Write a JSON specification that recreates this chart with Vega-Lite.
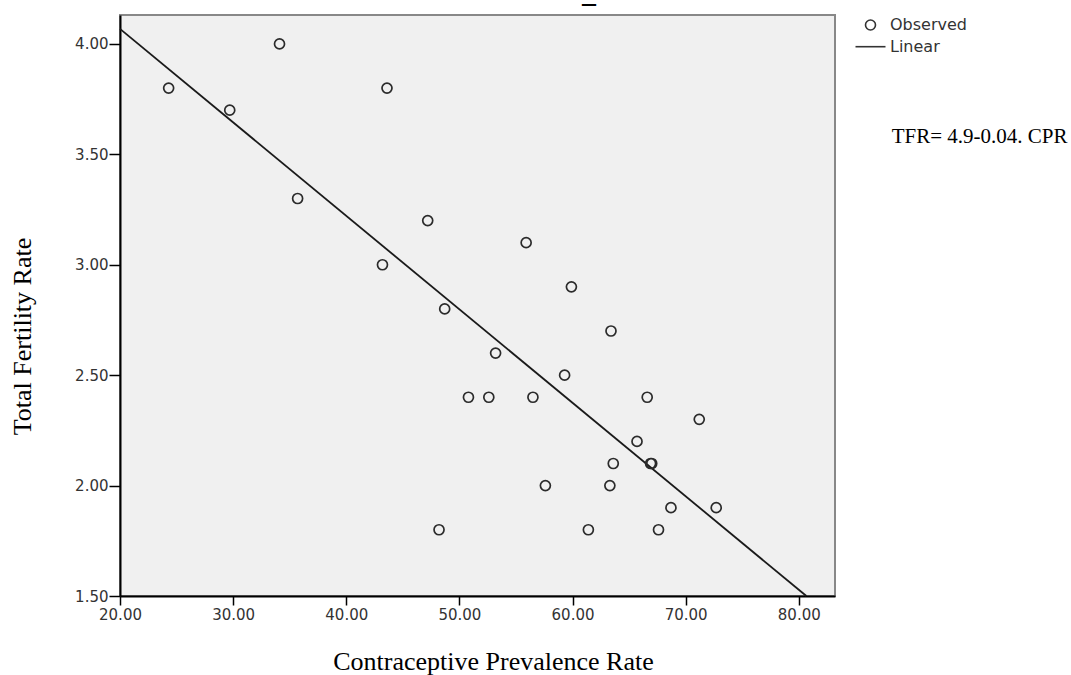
{
  "$schema": "https://vega.github.io/schema/vega-lite/v6.json",
  "width": 715,
  "height": 581,
  "autosize": "none",
  "padding": {"left": 120, "top": 15, "right": 236, "bottom": 79},
  "background": "white",
  "config": {
    "view": {"fill": "#f0f0f0", "stroke": "#888888", "strokeWidth": 2}
  },
  "title": {
    "text": "—",
    "anchor": "start",
    "frame": "group",
    "dx": 461,
    "dy": 12,
    "offset": 2,
    "baseline": "alphabetic",
    "font": "DejaVu Sans",
    "fontWeight": "bold",
    "fontSize": 16,
    "color": "black"
  },
  "datasets": {
    "observed": [
      {"cpr": 24.3, "tfr": 3.8, "series": "Observed"},
      {"cpr": 29.7, "tfr": 3.7, "series": "Observed"},
      {"cpr": 34.1, "tfr": 4.0, "series": "Observed"},
      {"cpr": 43.6, "tfr": 3.8, "series": "Observed"},
      {"cpr": 35.7, "tfr": 3.3, "series": "Observed"},
      {"cpr": 47.2, "tfr": 3.2, "series": "Observed"},
      {"cpr": 55.9, "tfr": 3.1, "series": "Observed"},
      {"cpr": 43.2, "tfr": 3.0, "series": "Observed"},
      {"cpr": 59.9, "tfr": 2.9, "series": "Observed"},
      {"cpr": 48.7, "tfr": 2.8, "series": "Observed"},
      {"cpr": 63.4, "tfr": 2.7, "series": "Observed"},
      {"cpr": 53.2, "tfr": 2.6, "series": "Observed"},
      {"cpr": 59.3, "tfr": 2.5, "series": "Observed"},
      {"cpr": 50.8, "tfr": 2.4, "series": "Observed"},
      {"cpr": 52.6, "tfr": 2.4, "series": "Observed"},
      {"cpr": 56.5, "tfr": 2.4, "series": "Observed"},
      {"cpr": 66.6, "tfr": 2.4, "series": "Observed"},
      {"cpr": 71.2, "tfr": 2.3, "series": "Observed"},
      {"cpr": 65.7, "tfr": 2.2, "series": "Observed"},
      {"cpr": 63.6, "tfr": 2.1, "series": "Observed"},
      {"cpr": 66.9, "tfr": 2.1, "series": "Observed"},
      {"cpr": 67.0, "tfr": 2.1, "series": "Observed"},
      {"cpr": 57.6, "tfr": 2.0, "series": "Observed"},
      {"cpr": 63.3, "tfr": 2.0, "series": "Observed"},
      {"cpr": 68.7, "tfr": 1.9, "series": "Observed"},
      {"cpr": 72.7, "tfr": 1.9, "series": "Observed"},
      {"cpr": 48.2, "tfr": 1.8, "series": "Observed"},
      {"cpr": 61.4, "tfr": 1.8, "series": "Observed"},
      {"cpr": 67.6, "tfr": 1.8, "series": "Observed"}
    ],
    "fit": [
      {"cpr": 20.0, "tfr": 4.068},
      {"cpr": 80.67, "tfr": 1.5}
    ],
    "note": [
      {"label": "TFR= 4.9-0.04. CPR", "cpr": 88.21, "tfr": 3.553}
    ]
  },
  "layer": [
    {
      "data": {"name": "fit"},
      "mark": {"type": "line", "color": "#1a1a1a", "strokeWidth": 1.8},
      "encoding": {
        "x": {
          "field": "cpr",
          "type": "quantitative",
          "scale": {"domain": [20, 83.2], "nice": false, "zero": false},
          "axis": {
            "title": "Contraceptive Prevalence Rate",
            "values": [20, 30, 40, 50, 60, 70, 80],
            "format": ".2f",
            "grid": false,
            "labelFlush": false,
            "labelOverlap": false,
            "domainColor": "black",
            "domainWidth": 2,
            "tickColor": "black",
            "tickWidth": 1.5,
            "tickSize": 9,
            "labelPadding": 2,
            "labelFont": "DejaVu Sans",
            "labelFontSize": 15,
            "labelColor": "#333333",
            "titleFont": "Liberation Serif",
            "titleFontSize": 26,
            "titleFontWeight": "normal",
            "titleColor": "black",
            "titleX": 373,
            "titleY": 73,
            "titleBaseline": "alphabetic",
            "titleAlign": "center"
          }
        },
        "y": {
          "field": "tfr",
          "type": "quantitative",
          "scale": {"domain": [1.5, 4.131], "nice": false, "zero": false},
          "axis": {
            "title": "Total Fertility Rate",
            "values": [1.5, 2.0, 2.5, 3.0, 3.5, 4.0],
            "format": ".2f",
            "grid": false,
            "labelFlush": false,
            "labelOverlap": false,
            "domainColor": "black",
            "domainWidth": 2,
            "tickColor": "black",
            "tickWidth": 1.5,
            "tickSize": 11,
            "labelPadding": 1,
            "labelFont": "DejaVu Sans",
            "labelFontSize": 15,
            "labelColor": "#333333",
            "titleFont": "Liberation Serif",
            "titleFontSize": 26,
            "titleFontWeight": "normal",
            "titleColor": "black",
            "titleAngle": -90,
            "titleX": -90,
            "titleY": 321,
            "titleBaseline": "alphabetic",
            "titleAlign": "center"
          }
        }
      }
    },
    {
      "data": {"name": "observed"},
      "mark": {"type": "point", "filled": false, "size": 100, "strokeWidth": 1.7, "color": "#2b2b2b", "opacity": 1},
      "encoding": {
        "x": {"field": "cpr", "type": "quantitative"},
        "y": {"field": "tfr", "type": "quantitative"},
        "shape": {
          "field": "series",
          "type": "nominal",
          "scale": {"domain": ["Observed", "Linear"], "range": ["circle", "M-3,0H3"]},
          "legend": {
            "orient": "none",
            "legendX": 742.5,
            "legendY": 2,
            "title": null,
            "padding": 0,
            "labelFont": "DejaVu Sans",
            "labelFontSize": 16,
            "labelColor": "#333333",
            "labelOffset": 11.5,
            "symbolStrokeColor": "#333333",
            "symbolFillColor": "transparent",
            "symbolStrokeWidth": 1.6,
            "symbolSize": 100,
            "rowPadding": 4.7
          }
        }
      }
    },
    {
      "data": {"name": "note"},
      "mark": {"type": "text", "font": "Liberation Serif", "fontSize": 21, "align": "left", "baseline": "alphabetic", "color": "black", "clip": false},
      "encoding": {
        "x": {"field": "cpr", "type": "quantitative"},
        "y": {"field": "tfr", "type": "quantitative"},
        "text": {"field": "label", "type": "nominal"}
      }
    }
  ]
}
